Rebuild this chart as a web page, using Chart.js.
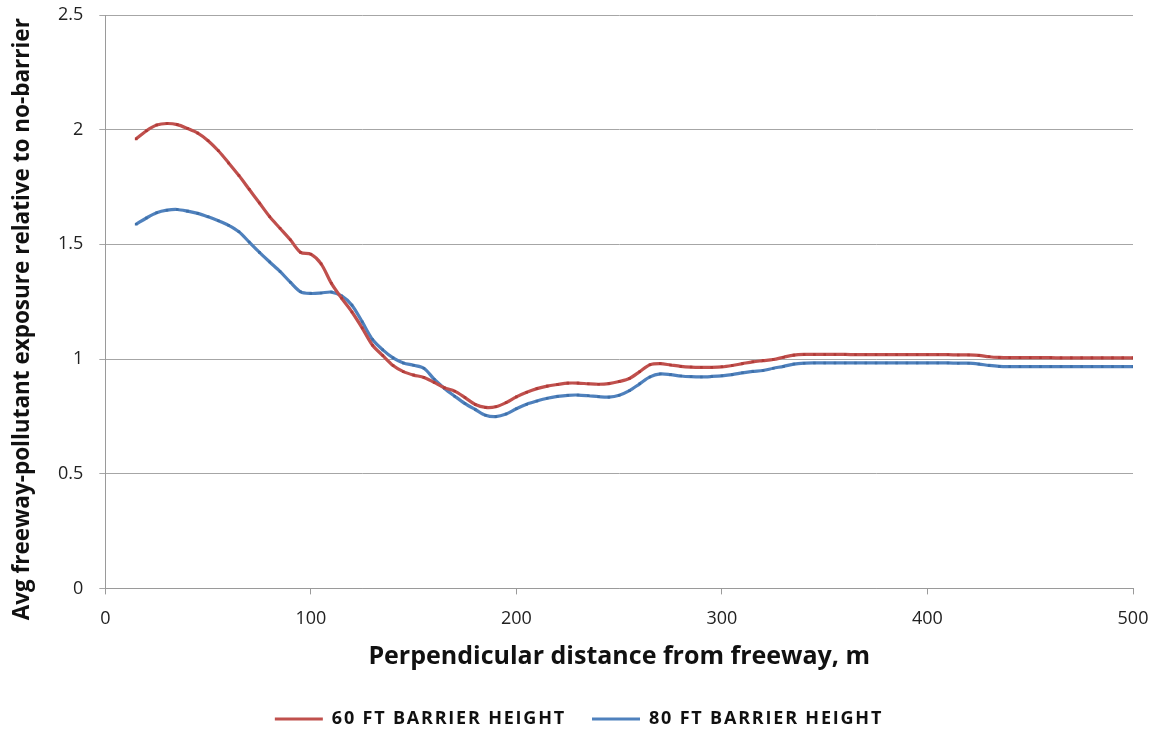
<!DOCTYPE html>
<html>
<head>
<meta charset="utf-8">
<script src="https://cdn.jsdelivr.net/npm/chart.js@4/dist/chart.umd.min.js"></script>
<style>
html,body{margin:0;padding:0;background:#fff;}
#wrap{width:1158px;height:730px;position:relative;}
</style>
</head>
<body>
<div id="wrap"><canvas id="c" width="1158" height="730"></canvas></div>
<script>
// Distance from freeway (m)
const distances = [15,20,25,30,35,40,45,50,55,60,65,70,75,80,85,90,95,100,105,110,115,120,125,130,135,140,145,150,155,160,165,170,175,180,185,190,195,200,205,210,215,220,225,230,235,240,245,250,255,260,265,270,275,280,285,290,295,300,305,310,315,320,325,330,335,340,345,350,355,360,365,370,375,380,385,390,395,400,405,410,415,420,425,430,435,440,445,450,455,460,465,470,475,480,485,490,495,500];
// 60 ft barrier height
const barrier60 = [1.96,1.995,2.02,2.027,2.022,2.005,1.985,1.952,1.908,1.855,1.80,1.74,1.68,1.62,1.57,1.52,1.465,1.457,1.415,1.33,1.265,1.205,1.135,1.06,1.015,0.972,0.945,0.93,0.92,0.898,0.875,0.86,0.832,0.802,0.789,0.792,0.81,0.835,0.855,0.871,0.882,0.889,0.895,0.895,0.892,0.89,0.893,0.902,0.915,0.945,0.975,0.98,0.974,0.968,0.965,0.964,0.964,0.966,0.972,0.98,0.988,0.993,0.998,1.008,1.017,1.02,1.02,1.02,1.02,1.02,1.019,1.019,1.019,1.019,1.019,1.019,1.019,1.019,1.019,1.019,1.018,1.018,1.016,1.01,1.007,1.006,1.006,1.006,1.006,1.006,1.005,1.005,1.005,1.005,1.005,1.005,1.005,1.005];
// 80 ft barrier height
const barrier80 = [1.588,1.615,1.638,1.649,1.652,1.645,1.635,1.62,1.603,1.583,1.555,1.51,1.465,1.423,1.382,1.335,1.293,1.286,1.288,1.292,1.275,1.235,1.162,1.085,1.04,1.005,0.983,0.973,0.96,0.912,0.872,0.838,0.806,0.78,0.755,0.749,0.76,0.783,0.803,0.817,0.829,0.837,0.842,0.843,0.84,0.836,0.834,0.842,0.862,0.892,0.922,0.935,0.932,0.926,0.923,0.922,0.924,0.927,0.932,0.94,0.946,0.95,0.96,0.968,0.978,0.982,0.983,0.983,0.983,0.983,0.983,0.983,0.983,0.983,0.983,0.983,0.983,0.983,0.983,0.983,0.982,0.982,0.978,0.972,0.968,0.967,0.967,0.967,0.967,0.967,0.967,0.967,0.967,0.967,0.967,0.967,0.967,0.967];
const seriesLabels = ["60 FT BARRIER HEIGHT", "80 FT BARRIER HEIGHT"];
const xTitle = "Perpendicular distance from freeway, m";
const yTitle = "Avg freeway-pollutant exposure relative to no-barrier";

const RED = "#C0504D", BLUE = "#4F81BD";
const FONT = "'Open Sans', sans-serif";
const toPts = arr => distances.map((d,i) => ({x:d, y:arr[i]}));

const chart = new Chart(document.getElementById('c'), {
  type: 'line',
  data: {
    datasets: [
      {label: seriesLabels[0], data: toPts(barrier60), borderColor: RED, backgroundColor: RED,
       borderWidth: 3.2, pointRadius: 1.8, pointStyle: 'rect', pointBackgroundColor: "#B03A37", pointBorderWidth: 0, tension: 0.3},
      {label: seriesLabels[1], data: toPts(barrier80), borderColor: BLUE, backgroundColor: BLUE,
       borderWidth: 3.2, pointRadius: 1.8, pointStyle: 'rect', pointBackgroundColor: "#3D6FA8", pointBorderWidth: 0, tension: 0.3}
    ]
  },
  options: {
    responsive: false,
    animation: false,
    layout: {padding: {left: 0, right: 0, top: 0, bottom: -8}},
    plugins: {
      legend: {
        position: 'bottom',
        labels: {
          boxWidth: 48, boxHeight: 3,
          color: '#111', padding: 26,
          font: {family: FONT, size: 18, weight: 'bold'},
          generateLabels: (ch) => Chart.defaults.plugins.legend.labels.generateLabels(ch)
            .map(l => Object.assign(l, {lineWidth: 0}))
        }
      },
      tooltip: {enabled: false}
    },
    scales: {
      x: {
        type: 'linear', min: 0, max: 500,
        afterFit: s => { s.paddingRight = 25; },
        ticks: {stepSize: 100, color: '#222', padding: 14, font: {family: FONT, size: 18}},
        grid: {drawOnChartArea: false, drawTicks: true, tickLength: 6, color: '#9a9a9a'},
        border: {display: true, color: '#9a9a9a', width: 1},
        title: {display: true, text: xTitle, color: '#111', padding: {top: -2, bottom: 12},
                font: {family: FONT, size: 25, weight: 'bold'}}
      },
      y: {
        min: 0, max: 2.5,
        afterFit: s => { s.paddingTop = 15; },
        ticks: {stepSize: 0.5, color: '#222', padding: 16, font: {family: FONT, size: 18},
                callback: v => String(v)},
        grid: {color: '#a6a6a6', drawTicks: true, tickLength: 6, lineWidth: 1},
        border: {display: true, color: '#9a9a9a', width: 1},
        // trailing spaces nudge the rotated title downward, as in the reference
        title: {display: true, text: yTitle + "      ", color: '#111', padding: {top: 9, bottom: 6},
                font: {family: FONT, size: 22.5, weight: 'bold'}}
      }
    }
  }
});

// Legend text in the reference is letter-spaced; apply spacing to legend measurement and drawing.
const lg = chart.legend;
['fit', 'draw'].forEach(m => {
  const orig = lg[m];
  lg[m] = function (...args) {
    const c = this.ctx;
    c.save();
    c.letterSpacing = '1.8px';
    const r = orig.apply(this, args);
    c.restore();
    return r;
  };
});
chart.update();
</script>
</body>
</html>
